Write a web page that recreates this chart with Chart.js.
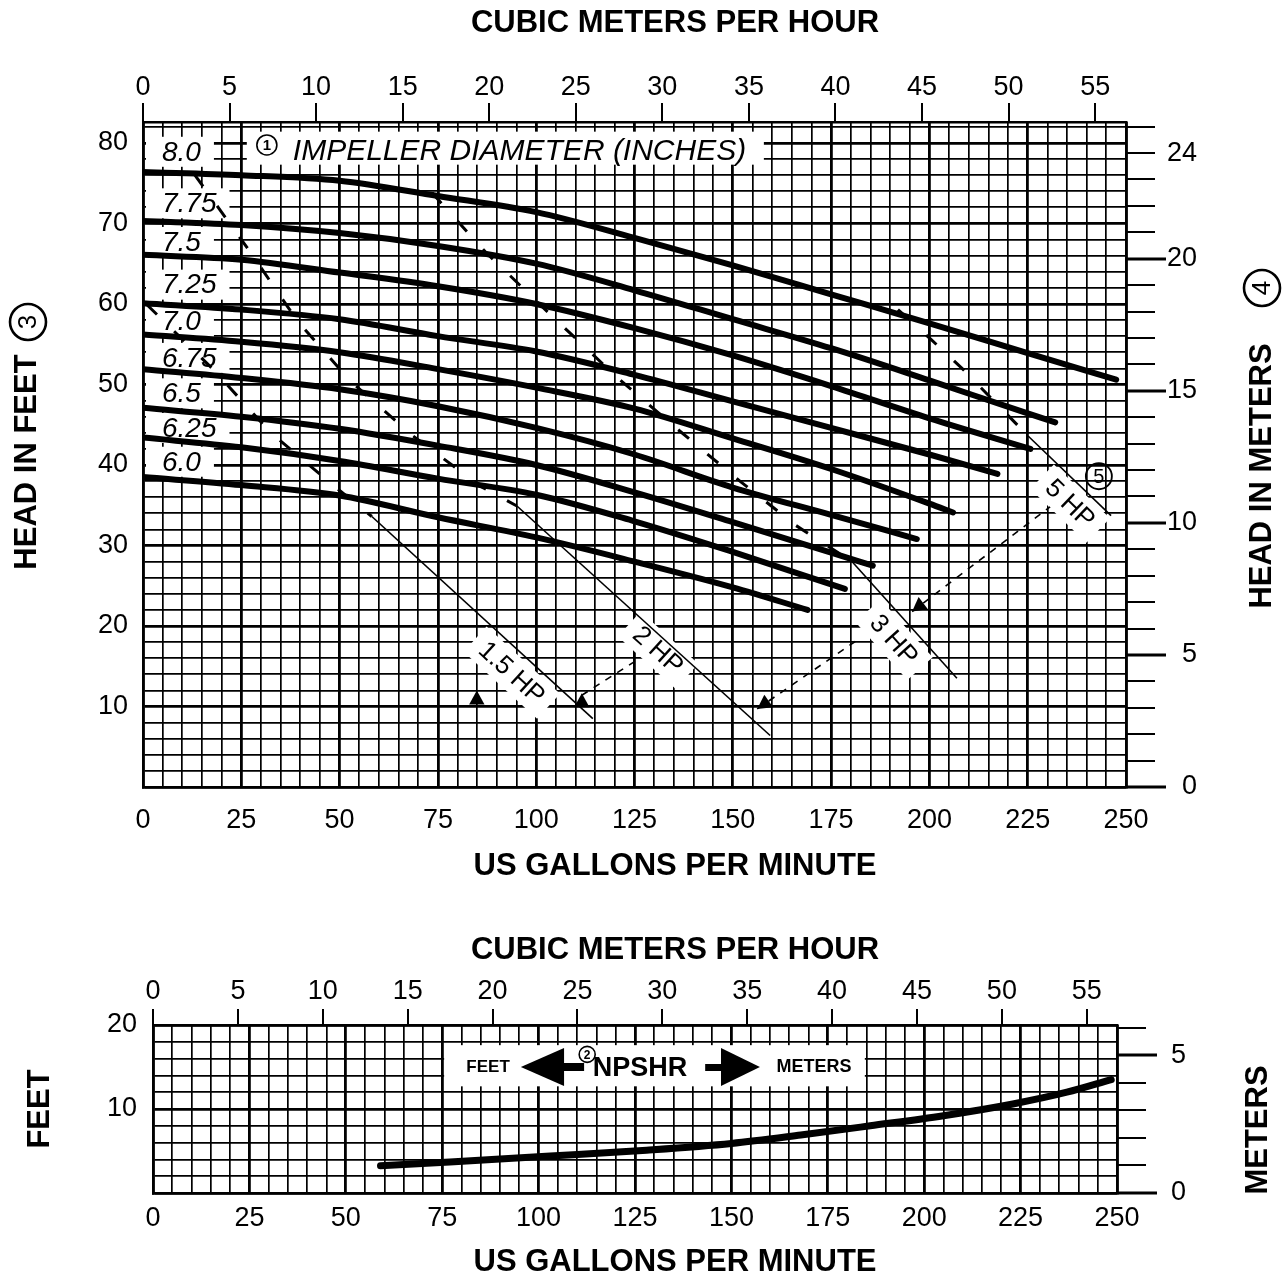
<!DOCTYPE html>
<html>
<head>
<meta charset="utf-8">
<title>Pump performance curves</title>
<script src="https://cdn.jsdelivr.net/npm/chart.js@4.4.1/dist/chart.umd.min.js"></script>
<style>
  html, body { margin: 0; padding: 0; background: #fff; }
  #wrap { position: relative; width: 1284px; height: 1279px; }
  canvas { position: absolute; left: 0; }
  #curves { top: 0; }
  #npsh { top: 900px; }
</style>
</head>
<body>
<div id="wrap">
  <canvas id="curves" width="1284" height="900"></canvas>
  <canvas id="npsh" width="1284" height="379"></canvas>
</div>
<script>
// unit conversions for the secondary axes
const GPM_PER_CMH = 4.4029;
const FT_PER_M = 3.2808;

// impeller curves (US gpm / head in feet)
const impellerSizes = ['8.0', '7.75', '7.5', '7.25', '7.0', '6.75', '6.5', '6.25', '6.0'];
const flow80 = [0, 25, 50, 75, 100, 125, 150, 175, 200, 225, 247.5];
const head80 = [76.4, 76.0, 75.3, 73.4, 71.4, 68.2, 64.8, 61.2, 57.6, 53.9, 50.6];
const flow775 = [0, 25, 50, 75, 100, 125, 150, 175, 200, 225, 232];
const head775 = [70.3, 69.8, 68.8, 67.2, 65.0, 61.7, 58.1, 54.5, 50.5, 46.4, 45.3];
const flow75 = [0, 25, 50, 75, 100, 125, 150, 175, 200, 225.7];
const head75 = [66.1, 65.5, 63.9, 62.2, 60.0, 57.0, 53.6, 49.8, 45.8, 42.0];
const flow725 = [0, 25, 50, 75, 100, 125, 150, 175, 200, 217.3];
const head725 = [60.1, 59.3, 58.1, 56.0, 54.1, 51.2, 47.9, 44.6, 41.3, 38.9];
const flow70 = [0, 25, 50, 75, 100, 125, 150, 175, 200, 206];
const head70 = [56.2, 55.3, 54.0, 51.9, 49.6, 47.0, 43.3, 39.5, 35.2, 34.1];
const flow675 = [0, 25, 50, 75, 100, 125, 150, 175, 196.8];
const head675 = [51.9, 50.8, 49.4, 47.3, 44.6, 41.3, 37.2, 33.8, 30.8];
const flow65 = [0, 25, 50, 75, 100, 125, 150, 175, 185.6];
const head65 = [47.1, 46.0, 44.5, 42.4, 40.0, 36.6, 32.9, 29.1, 27.5];
const flow625 = [0, 25, 50, 75, 100, 125, 150, 178.5];
const head625 = [43.4, 42.2, 40.5, 38.3, 36.3, 33.0, 29.2, 24.6];
const flow60 = [0, 25, 50, 75, 100, 125, 150, 169];
const head60 = [38.5, 37.5, 36.2, 33.5, 31.0, 28.0, 24.8, 22.0];
const impellerFlows = [flow80, flow775, flow75, flow725, flow70, flow675, flow65, flow625, flow60];
const impellerHeads = [head80, head775, head75, head725, head70, head675, head65, head625, head60];
// where the size labels sit (head, ft)
const impellerLabelHead = [78.9, 72.5, 67.7, 62.4, 57.8, 53.3, 48.9, 44.6, 40.4];

// horsepower lines: dashed part across the curves, thin solid part below
const hpLabels = ['1.5 HP', '2 HP', '3 HP', '5 HP'];
const hp15DashFlow = [1, 17.8, 32.3, 48.8, 58.2];
const hp15DashHead = [59.9, 51.9, 44.1, 37.3, 33.6];
const hp15Flow = [58.2, 114.4];
const hp15Head = [33.6, 8.5];
const hp2DashFlow = [13.2, 27.2, 39.4, 52.6, 68.4, 86.0, 95.1];
const hp2DashHead = [76.0, 66.5, 57.8, 50.5, 43.7, 37.3, 34.9];
const hp2Flow = [95.1, 159.5];
const hp2Head = [34.9, 6.4];
const hp3DashFlow = [73.5, 87.0, 104.0, 120.3, 135.8, 151.8, 166.0, 180.3];
const hp3DashHead = [73.8, 66.5, 58.5, 51.0, 44.5, 38.0, 32.5, 28.0];
const hp3Flow = [180.3, 207.0];
const hp3Head = [28.0, 13.5];
const hp5DashFlow = [192.0, 200.4, 208.5, 225.1];
const hp5DashHead = [59.3, 55.6, 51.9, 43.6];
const hp5Flow = [225.1, 246.2];
const hp5Head = [43.6, 33.7];
// label anchors for the HP lines
const hpLabelFlow = [93.8, 131.0, 191.0, 235.8];
const hpLabelHead = [14.2, 17.0, 18.3, 35.2];
// dashed pointers from the HP labels
const link2Flow = [111.6, 125.1];
const link2Head = [11.4, 15.6];
const link3Flow = [156.2, 181.8];
const link3Head = [9.7, 18.3];
const link5Flow = [195.6, 230.7];
const link5Head = [21.8, 34.8];
const arrow15 = [84.9, 12.0];

// NPSHR (US gpm / feet)
const npshFlow = [59, 77, 103, 128, 150, 168, 186, 205, 223, 237, 248.5];
const npshFeet = [3.25, 3.7, 4.4, 5.1, 5.9, 6.9, 8.0, 9.2, 10.6, 12.0, 13.5];

// tick labels
const gpmTicks = [0, 25, 50, 75, 100, 125, 150, 175, 200, 225, 250];
const cmhTicks = [0, 5, 10, 15, 20, 25, 30, 35, 40, 45, 50, 55];
const headMeterTicks = [0, 5, 10, 15, 20, 24];
const npshMeterTicks = [0, 5];

const FONT = '"Liberation Sans", Arial, Helvetica, sans-serif';

function range(a, b, step) {
    const out = [];
    for (let v = a; v <= b + 1e-9; v += step) out.push(+v.toFixed(4));
    return out;
}
function pts(xs, ys) {
    return xs.map((x, i) => ({ x: x, y: ys[i] }));
}
function gridWidth(major) {
    return c => (c.tick && Math.abs(c.tick.value % major) < 1e-6) ? 2.8 : 1.7;
}

function circled(ctx, cx, cy, r, digit, size, rot, weight) {
    ctx.save();
    ctx.translate(cx, cy);
    if (rot) ctx.rotate(rot);
    ctx.beginPath();
    ctx.arc(0, 0, r, 0, Math.PI * 2);
    ctx.lineWidth = Math.max(1.6, r / 7);
    ctx.strokeStyle = '#000';
    ctx.stroke();
    ctx.fillStyle = '#000';
    ctx.font = (weight || '') + ' ' + size + 'px ' + FONT;
    ctx.textAlign = 'center';
    ctx.textBaseline = 'middle';
    ctx.fillText(digit, 0, 1);
    ctx.restore();
}

function triangle(ctx, x, y, angle, size) {
    // tip at (x, y), pointing in direction angle
    ctx.save();
    ctx.translate(x, y);
    ctx.rotate(angle);
    ctx.beginPath();
    ctx.moveTo(0, 0);
    ctx.lineTo(-size, -size * 0.55);
    ctx.lineTo(-size, size * 0.55);
    ctx.closePath();
    ctx.fillStyle = '#000';
    ctx.fill();
    ctx.restore();
}

function meterTicks(chart, maxM, majors) {
    const { ctx, chartArea, scales } = chart;
    ctx.save();
    ctx.strokeStyle = '#000';
    for (let m = 0; m <= maxM; m++) {
        const py = Math.round(scales.y2.getPixelForValue(m));
        const major = majors.includes(m);
        ctx.lineWidth = major ? 3 : 2;
        ctx.beginPath();
        ctx.moveTo(chartArea.right, py);
        ctx.lineTo(chartArea.right + (major ? 40 : 29), py);
        ctx.stroke();
    }
    ctx.restore();
}

function vText(ctx, text, x, y, font) {
    ctx.save();
    ctx.translate(x, y);
    ctx.rotate(-Math.PI / 2);
    ctx.font = font;
    ctx.fillStyle = '#000';
    ctx.textAlign = 'center';
    ctx.textBaseline = 'middle';
    ctx.fillText(text, 0, 0);
    ctx.restore();
}

function hText(ctx, text, x, y, font) {
    ctx.save();
    ctx.font = font;
    ctx.fillStyle = '#000';
    ctx.textAlign = 'center';
    ctx.textBaseline = 'middle';
    ctx.fillText(text, x, y);
    ctx.restore();
}

// angle of the solid HP lines in pixel space
function hpAngle(chart, i) {
    const xs = [hp15Flow, hp2Flow, hp3Flow, hp5Flow][i];
    const ys = [hp15Head, hp2Head, hp3Head, hp5Head][i];
    const { x, y } = chart.scales;
    const dx = x.getPixelForValue(xs[1]) - x.getPixelForValue(xs[0]);
    const dy = y.getPixelForValue(ys[1]) - y.getPixelForValue(ys[0]);
    return Math.atan2(dy, dx);
}

const curveDecor = {
    id: 'curveDecor',
    beforeDatasetsDraw(chart) {
        const { ctx, chartArea, scales: { x, y } } = chart;
        ctx.save();
        ctx.fillStyle = '#fff';
        // impeller size label boxes
        ctx.font = 'italic 28px ' + FONT;
        impellerSizes.forEach((s, i) => {
            const py = y.getPixelForValue(impellerLabelHead[i]);
            const w = ctx.measureText(s).width;
            ctx.fillRect(chartArea.left + 3, py - 15, 19 + w + 10, 30);
        });
        // title box
        const bx0 = x.getPixelForValue(26.4), bx1 = x.getPixelForValue(157.9);
        const by0 = y.getPixelForValue(81.4), by1 = y.getPixelForValue(77.3);
        ctx.fillRect(bx0, by0, bx1 - bx0, by1 - by0);
        // HP label boxes
        ctx.font = '26px ' + FONT;
        hpLabels.forEach((t, i) => {
            const px = x.getPixelForValue(hpLabelFlow[i]);
            const py = y.getPixelForValue(hpLabelHead[i]);
            const w = ctx.measureText(t).width;
            ctx.save();
            ctx.translate(px, py);
            ctx.rotate(hpAngle(chart, i));
            ctx.fillRect(-w / 2 - 10, -17, w + 20, 34);
            ctx.restore();
        });
        ctx.restore();
    },
    afterDatasetsDraw(chart) {
        const { ctx, chartArea, scales: { x, y } } = chart;
        ctx.save();
        ctx.fillStyle = '#000';
        ctx.textBaseline = 'middle';
        // impeller size labels
        ctx.font = 'italic 28px ' + FONT;
        ctx.textAlign = 'left';
        impellerSizes.forEach((s, i) => {
            ctx.fillText(s, chartArea.left + 19, y.getPixelForValue(impellerLabelHead[i]) + 1);
        });
        // title
        circled(ctx, x.getPixelForValue(31.5), y.getPixelForValue(79.75), 10, '1', 15, 0, 'bold');
        ctx.font = 'italic 30px ' + FONT;
        ctx.textAlign = 'left';
        ctx.fillText('IMPELLER DIAMETER (INCHES)', x.getPixelForValue(38.1), y.getPixelForValue(79.1) + 1);
        // HP labels
        ctx.font = '26px ' + FONT;
        ctx.textAlign = 'center';
        hpLabels.forEach((t, i) => {
            ctx.save();
            ctx.translate(x.getPixelForValue(hpLabelFlow[i]), y.getPixelForValue(hpLabelHead[i]));
            ctx.rotate(hpAngle(chart, i));
            ctx.fillText(t, 0, 1);
            ctx.restore();
        });
        circled(ctx, x.getPixelForValue(243.1), y.getPixelForValue(38.6), 13, '5', 20);
        // arrow heads
        triangle(ctx, x.getPixelForValue(arrow15[0]), y.getPixelForValue(arrow15[1]), -Math.PI / 2, 14);
        triangle(ctx, x.getPixelForValue(link2Flow[0]), y.getPixelForValue(link2Head[0]) - 2, -Math.PI / 2, 14);
        [[link3Flow, link3Head], [link5Flow, link5Head]].forEach(([fx, fy]) => {
            const x0 = x.getPixelForValue(fx[0]), y0 = y.getPixelForValue(fy[0]);
            const x1 = x.getPixelForValue(fx[1]), y1 = y.getPixelForValue(fy[1]);
            triangle(ctx, x0, y0, Math.atan2(y0 - y1, x0 - x1), 14);
        });
        ctx.restore();
    },
    afterDraw(chart) {
        const { ctx } = chart;
        meterTicks(chart, 25, [0, 5, 10, 15, 20]);
        const bold = 'bold 31px ' + FONT;
        hText(ctx, 'CUBIC METERS PER HOUR', 675, 23, bold);
        hText(ctx, 'US GALLONS PER MINUTE', 675, 866, bold);
        vText(ctx, 'HEAD IN FEET', 27, 462, bold);
        circled(ctx, 28, 322, 18, '3', 26, -Math.PI / 2);
        vText(ctx, 'HEAD IN METERS', 1262, 476, bold);
        circled(ctx, 1262, 288, 18, '4', 26, -Math.PI / 2);
    }
};

const npshDecor = {
    id: 'npshDecor',
    beforeDatasetsDraw(chart) {
        const { ctx, scales: { x, y } } = chart;
        const bx0 = x.getPixelForValue(75.5), bx1 = x.getPixelForValue(184.6);
        const by0 = y.getPixelForValue(17.6), by1 = y.getPixelForValue(12.7);
        ctx.save();
        ctx.fillStyle = '#fff';
        ctx.fillRect(bx0, by0, bx1 - bx0, by1 - by0);
        ctx.restore();
    },
    afterDatasetsDraw(chart) {
        const { ctx, scales: { x, y } } = chart;
        const cy = y.getPixelForValue(15.0);
        ctx.save();
        ctx.fillStyle = '#000';
        hText(ctx, 'FEET', x.getPixelForValue(86.9), cy, 'bold 17px ' + FONT);
        // left arrow
        const lt = x.getPixelForValue(95.4), lb = x.getPixelForValue(106.6), ls = x.getPixelForValue(111.8);
        ctx.beginPath();
        ctx.moveTo(lt, cy);
        ctx.lineTo(lb, cy - 19);
        ctx.lineTo(lb, cy + 19);
        ctx.closePath();
        ctx.fill();
        ctx.fillRect(lb - 1, cy - 4, ls - lb + 1, 8);
        circled(ctx, x.getPixelForValue(112.6), y.getPixelForValue(16.5), 8, '2', 12, 0, 'bold');
        hText(ctx, 'NPSHR', x.getPixelForValue(126.3), cy + 2, 'bold 27px ' + FONT);
        // right arrow
        const rs = x.getPixelForValue(143.2), rb = x.getPixelForValue(147.3), rt = x.getPixelForValue(157.4);
        ctx.fillRect(rs, cy - 3, rb - rs + 1, 7);
        ctx.beginPath();
        ctx.moveTo(rt, cy);
        ctx.lineTo(rb, cy - 19);
        ctx.lineTo(rb, cy + 19);
        ctx.closePath();
        ctx.fill();
        hText(ctx, 'METERS', x.getPixelForValue(171.4), cy, 'bold 18px ' + FONT);
        ctx.restore();
    },
    afterDraw(chart) {
        const { ctx } = chart;
        meterTicks(chart, 6, [0, 5]);
        const bold = 'bold 31px ' + FONT;
        hText(ctx, 'CUBIC METERS PER HOUR', 675, 50, bold);
        hText(ctx, 'US GALLONS PER MINUTE', 675, 362, bold);
        vText(ctx, 'FEET', 40, 209, bold);
        vText(ctx, 'METERS', 1258, 230, bold);
    }
};

const tickFont = { family: FONT, size: 27 };

function makeScales(opt) {
    return {
        x: {
            type: 'linear', position: 'bottom', min: 0, max: 250,
            afterBuildTicks: s => { s.ticks = range(0, 250, 5).map(v => ({ value: v })); },
            afterFit: s => { s.height = opt.bottomH; },
            ticks: {
                autoSkip: false, maxRotation: 0, padding: opt.xPad, color: '#000', font: tickFont,
                callback: v => gpmTicks.includes(v) ? String(v) : ''
            },
            grid: { color: '#000', lineWidth: gridWidth(25), drawTicks: false },
            border: { color: '#000', width: 2.5 }
        },
        x2: {
            type: 'linear', position: 'top', min: 0, max: 250 / GPM_PER_CMH,
            afterBuildTicks: s => { s.ticks = cmhTicks.map(v => ({ value: v })); },
            afterFit: s => { s.height = opt.topH; },
            ticks: { autoSkip: false, maxRotation: 0, padding: opt.x2Pad, color: '#000', font: tickFont },
            grid: { drawOnChartArea: false, tickLength: opt.topTick, color: '#000', lineWidth: 2 },
            border: { color: '#000', width: 2.5 }
        },
        y: {
            type: 'linear', position: 'left', min: 0, max: opt.maxFt,
            afterBuildTicks: s => { s.ticks = range(0, Math.floor(opt.maxFt / 2) * 2, 2).map(v => ({ value: v })); },
            afterFit: s => { s.width = opt.leftW; },
            ticks: {
                autoSkip: false, padding: opt.yPad, color: '#000', font: tickFont,
                callback: v => (v > 0 && v % 10 === 0) ? String(v) : ''
            },
            grid: { color: '#000', lineWidth: gridWidth(10), drawTicks: false },
            border: { color: '#000', width: 2.5 }
        },
        y2: {
            // labels right-aligned at the outer edge of this box
            type: 'linear', position: 'right', min: 0, max: opt.maxFt / FT_PER_M,
            afterBuildTicks: s => { s.ticks = opt.meterTicks.map(v => ({ value: v })); },
            afterFit: s => { s.width = opt.rightW; },
            ticks: { autoSkip: false, padding: 10, crossAlign: 'far', color: '#000', font: tickFont },
            grid: { drawOnChartArea: false, drawTicks: false },
            border: { color: '#000', width: 2.5 }
        }
    };
}

function baseOptions(padRight) {
    return {
        responsive: false,
        animation: false,
        layout: { padding: { left: 0, top: 0, bottom: 0, right: padRight } },
        plugins: { legend: { display: false }, tooltip: { enabled: false } },
        elements: { point: { radius: 0 } }
    };
}

function line(data, width, dash) {
    return {
        data: data, showLine: true, borderColor: '#000', borderWidth: width,
        borderDash: dash || [], pointRadius: 0, fill: false, borderCapStyle: 'butt'
    };
}

// ---- performance curves ----
const curveDatasets = impellerSizes.map((s, i) => Object.assign(
    line(pts(impellerFlows[i], impellerHeads[i]), 6),
    { label: s + ' in', cubicInterpolationMode: 'monotone', borderCapStyle: 'round' }
));
const hpDatasets = [
    Object.assign(line(pts(hp15DashFlow, hp15DashHead), 3, [14, 24]), { label: '1.5 HP' }),
    Object.assign(line(pts(hp15Flow, hp15Head), 1.6), { label: '1.5 HP' }),
    Object.assign(line(pts(hp2DashFlow, hp2DashHead), 3, [14, 24]), { label: '2 HP' }),
    Object.assign(line(pts(hp2Flow, hp2Head), 1.6), { label: '2 HP' }),
    Object.assign(line(pts(hp3DashFlow, hp3DashHead), 3, [14, 24]), { label: '3 HP' }),
    Object.assign(line(pts(hp3Flow, hp3Head), 1.6), { label: '3 HP' }),
    Object.assign(line(pts(hp5DashFlow, hp5DashHead), 3, [14, 24]), { label: '5 HP' }),
    Object.assign(line(pts(hp5Flow, hp5Head), 1.6), { label: '5 HP' }),
    Object.assign(line(pts(link2Flow, link2Head), 1.6, [7, 7]), { label: '2 HP pointer' }),
    Object.assign(line(pts(link3Flow, link3Head), 1.6, [7, 7]), { label: '3 HP pointer' }),
    Object.assign(line(pts(link5Flow, link5Head), 1.6, [7, 7]), { label: '5 HP pointer' })
];

// plot area of the upper chart: x 143..1126, y 122..787; meter labels end at x 1197
new Chart(document.getElementById('curves'), {
    type: 'scatter',
    data: { datasets: curveDatasets.concat(hpDatasets) },
    options: Object.assign(baseOptions(1284 - 1197), {
        scales: makeScales({
            bottomH: 900 - 787, topH: 122, leftW: 143, rightW: 1197 - 1126,
            maxFt: 82.6, meterTicks: headMeterTicks, xPad: 17, x2Pad: -1, topTick: 19,
            yPad: 15
        })
    }),
    plugins: [curveDecor]
});

// ---- NPSHR ---- plot area x 153..1117, y 1025..1193
new Chart(document.getElementById('npsh'), {
    type: 'scatter',
    data: {
        datasets: [Object.assign(line(pts(npshFlow, npshFeet), 7),
            { label: 'NPSHR', cubicInterpolationMode: 'monotone', borderCapStyle: 'round' })]
    },
    options: Object.assign(baseOptions(1284 - 1186), {
        scales: makeScales({
            bottomH: 379 - 293, topH: 125, leftW: 153, rightW: 1186 - 1117,
            maxFt: 20, meterTicks: npshMeterTicks, xPad: 9, x2Pad: 1, topTick: 16,
            yPad: 16
        })
    }),
    plugins: [npshDecor]
});
</script>
</body>
</html>
